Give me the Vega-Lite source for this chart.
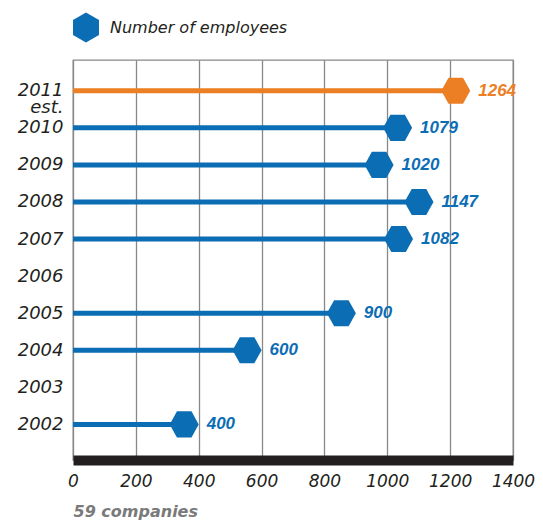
{
  "$schema": "https://vega.github.io/schema/vega-lite/v6.json",
  "width": 440,
  "height": 400,
  "autosize": {"type": "none"},
  "padding": {"left": 73, "top": 60, "right": 30, "bottom": 62},
  "background": "white",
  "config": {
    "view": {"stroke": "#888888", "strokeWidth": 1.3},
    "font": "DejaVu Sans"
  },
  "data": {
    "values": [
      {"year": 2011, "value": 1264, "series": "Estimate"},
      {"year": 2010, "value": 1079, "series": "Number of employees"},
      {"year": 2009, "value": 1020, "series": "Number of employees"},
      {"year": 2008, "value": 1147, "series": "Number of employees"},
      {"year": 2007, "value": 1082, "series": "Number of employees"},
      {"year": 2005, "value": 900, "series": "Number of employees"},
      {"year": 2004, "value": 600, "series": "Number of employees"},
      {"year": 2002, "value": 400, "series": "Number of employees"}
    ]
  },
  "encoding": {
    "y": {
      "field": "year",
      "type": "quantitative",
      "scale": {"domain": [2001.04, 2011.83], "nice": false, "zero": false},
      "axis": {
        "title": null,
        "values": [2002, 2003, 2004, 2005, 2006, 2007, 2008, 2009, 2010, 2011],
        "format": "d",
        "labelExpr": "datum.value == 2011 ? ['2011', 'est.'] : datum.label",
        "labelLineHeight": 17,
        "labelOverlap": false,
        "grid": false,
        "domain": false,
        "ticks": false,
        "tickSize": 0,
        "labelPadding": 10,
        "labelFont": "DejaVu Sans",
        "labelFontStyle": "italic",
        "labelFontSize": 18,
        "labelColor": "#231f20",
        "labelAlign": "right",
        "labelBaseline": "middle"
      }
    },
    "color": {
      "field": "series",
      "type": "nominal",
      "scale": {"domain": ["Number of employees", "Estimate"], "range": ["#0b6db3", "#ec7e23"]},
      "legend": {
        "values": ["Number of employees"],
        "title": null,
        "orient": "none",
        "legendX": -2,
        "legendY": -47.5,
        "padding": 0,
        "symbolType": "M0,-1L0.866,-0.5L0.866,0.5L0,1L-0.866,0.5L-0.866,-0.5Z",
        "symbolSize": 900,
        "symbolStrokeWidth": 0,
        "symbolFillColor": "#0b6db3",
        "symbolOpacity": 1,
        "labelFont": "DejaVu Sans",
        "labelFontStyle": "italic",
        "labelFontSize": 16,
        "labelColor": "#231f20",
        "labelOffset": 9,
        "labelLimit": 300
      }
    }
  },
  "layer": [
    {
      "mark": {"type": "rule", "strokeWidth": 5, "xOffset": -14},
      "encoding": {
        "x": {
          "field": "value",
          "type": "quantitative",
          "scale": {"domain": [0, 1400], "nice": false},
          "axis": {
            "values": [0, 200, 400, 600, 800, 1000, 1200, 1400],
            "format": "d",
            "grid": true,
            "gridColor": "#888888",
            "gridWidth": 1.3,
            "domain": true,
            "domainColor": "#231f20",
            "domainWidth": 10,
            "ticks": false,
            "tickSize": 0,
            "labelPadding": 13,
            "labelFont": "DejaVu Sans",
            "labelFontStyle": "italic",
            "labelFontSize": 17,
            "labelColor": "#231f20",
            "labelFlush": false,
            "labelOverlap": false,
            "title": "59 companies",
            "titleFont": "DejaVu Sans",
            "titleFontStyle": "italic",
            "titleFontWeight": "bold",
            "titleFontSize": 16,
            "titleColor": "#7a7a7a",
            "titleAnchor": "start",
            "titleAlign": "left",
            "titleBaseline": "top",
            "titleX": 0,
            "titleY": 43
          }
        },
        "x2": {"datum": 0}
      }
    },
    {
      "mark": {
        "type": "point",
        "filled": true,
        "opacity": 1,
        "strokeWidth": 0,
        "size": 841,
        "xOffset": -14.5,
        "shape": "M-1,0L-0.5,-0.9L0.5,-0.9L1,0L0.5,0.9L-0.5,0.9Z"
      },
      "encoding": {
        "x": {"field": "value", "type": "quantitative"}
      }
    },
    {
      "mark": {
        "type": "text",
        "align": "left",
        "baseline": "middle",
        "dx": 8,
        "font": "Liberation Sans",
        "fontStyle": "italic",
        "fontWeight": "bold",
        "fontSize": 17
      },
      "encoding": {
        "x": {"field": "value", "type": "quantitative"},
        "text": {"field": "value", "type": "quantitative", "format": "d"}
      }
    }
  ]
}
